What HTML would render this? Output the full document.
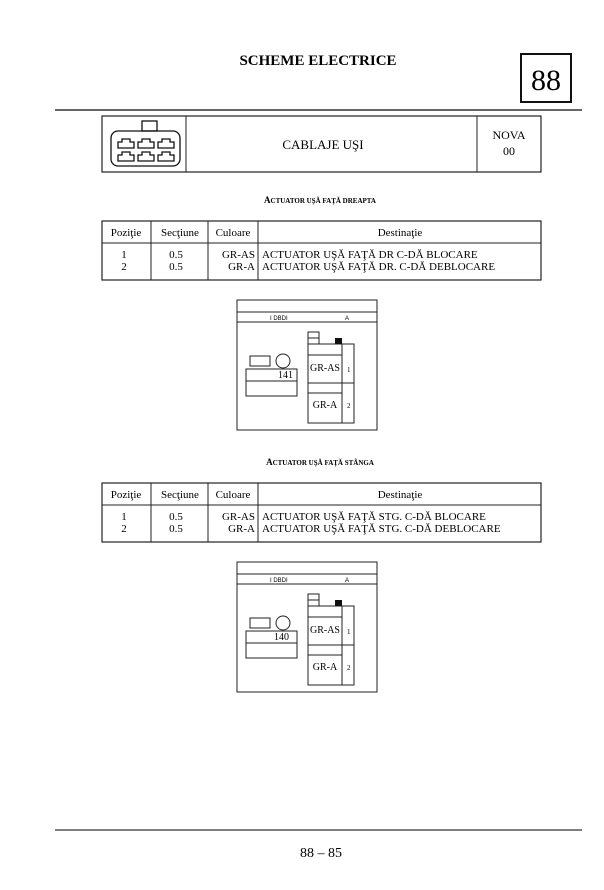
<!DOCTYPE html>
<html><head><meta charset="utf-8"><style>
html,body{margin:0;padding:0;background:#fff;}
svg{display:block;font-family:"Liberation Serif",serif;}
</style></head><body>
<svg width="604" height="890" viewBox="0 0 604 890" xmlns="http://www.w3.org/2000/svg">
<rect width="604" height="890" fill="#fff"/>
<text x="318" y="65" font-size="15" font-weight="bold" text-anchor="middle">SCHEME ELECTRICE</text>
<rect x="521" y="54" width="50" height="48" fill="none" stroke="#111" stroke-width="2"/>
<text x="546" y="90" font-size="30" text-anchor="middle">88</text>
<line x1="55" y1="110" x2="582" y2="110" stroke="#333" stroke-width="1.5"/>

<!-- header box -->
<rect x="102" y="116" width="439" height="56" fill="none" stroke="#222" stroke-width="1.2"/>
<line x1="186" y1="116" x2="186" y2="172" stroke="#222"/>
<line x1="477" y1="116" x2="477" y2="172" stroke="#222"/>
<g fill="none" stroke="#111" stroke-width="1.3">
<rect x="142" y="121" width="15" height="10"/>
<rect x="111" y="131" width="69" height="35" rx="7"/>
<path d="M118 142h4v-3h8v3h4v6h-16z M138 142h4v-3h8v3h4v6h-16z M158 142h4v-3h8v3h4v6h-16z"/>
<path d="M118 155h4v-3h8v3h4v6h-16z M138 155h4v-3h8v3h4v6h-16z M158 155h4v-3h8v3h4v6h-16z"/>
</g>
<text x="323" y="149" font-size="13" text-anchor="middle">CABLAJE UŞI</text>
<text x="509" y="139" font-size="12" text-anchor="middle">NOVA</text>
<text x="509" y="155" font-size="12" text-anchor="middle">00</text>

<g id="sec1">
<text x="320" y="203" font-size="9" font-weight="bold" text-anchor="middle">A<tspan font-size="7">CTUATOR UŞĂ FAŢĂ DREAPTA</tspan></text>
<rect x="102" y="221" width="439" height="59" fill="none" stroke="#222" stroke-width="1.2"/>
<line x1="102" y1="243" x2="541" y2="243" stroke="#222"/>
<line x1="151" y1="221" x2="151" y2="280" stroke="#222"/>
<line x1="208" y1="221" x2="208" y2="280" stroke="#222"/>
<line x1="258" y1="221" x2="258" y2="280" stroke="#222"/>
<g font-size="11">
<text x="126" y="236" text-anchor="middle">Poziţie</text>
<text x="180" y="236" text-anchor="middle">Secţiune</text>
<text x="233" y="236" text-anchor="middle">Culoare</text>
<text x="400" y="236" text-anchor="middle">Destinaţie</text>
<text x="124" y="258" text-anchor="middle">1</text>
<text x="124" y="270" text-anchor="middle">2</text>
<text x="176" y="258" text-anchor="middle">0.5</text>
<text x="176" y="270" text-anchor="middle">0.5</text>
<text x="255" y="258" text-anchor="end">GR-AS</text>
<text x="255" y="270" text-anchor="end">GR-A</text>
<text x="262" y="258">ACTUATOR UŞĂ FAŢĂ DR  C-DĂ BLOCARE</text>
<text x="262" y="270">ACTUATOR UŞĂ FAŢĂ DR. C-DĂ DEBLOCARE</text>
</g>
<g fill="none" stroke="#222" stroke-width="1">
<rect x="237" y="300" width="140" height="130"/>
<line x1="237" y1="312" x2="377" y2="312"/>
<line x1="237" y1="322" x2="377" y2="322"/>
<rect x="250" y="356" width="20" height="10"/>
<circle cx="283" cy="361" r="7"/>
<rect x="246" y="369" width="51" height="27"/>
<line x1="246" y1="381" x2="297" y2="381"/>
<rect x="308" y="332" width="11" height="12"/>
<line x1="308" y1="338" x2="319" y2="338"/>
<rect x="308" y="344" width="34" height="79"/>
<rect x="342" y="344" width="12" height="79"/>
<line x1="308" y1="355" x2="342" y2="355"/>
<line x1="308" y1="383" x2="354" y2="383"/>
<line x1="308" y1="393" x2="342" y2="393"/>
</g>
<rect x="335" y="338" width="7" height="6" fill="#111"/>
<text x="270" y="320" font-size="6" font-family="Liberation Sans,sans-serif">I DBDI</text>
<text x="345" y="320" font-size="6" font-family="Liberation Sans,sans-serif">A</text>
<text x="278" y="378" font-size="10">141</text>
<text x="325" y="371" font-size="10" text-anchor="middle">GR-AS</text>
<text x="325" y="408" font-size="10" text-anchor="middle">GR-A</text>
<text x="347" y="372" font-size="7">1</text>
<text x="347" y="408" font-size="7">2</text>
</g>

<g transform="translate(0,262)">
<text x="320" y="203" font-size="9" font-weight="bold" text-anchor="middle">A<tspan font-size="7">CTUATOR UŞĂ FAŢĂ STÂNGA</tspan></text>
<rect x="102" y="221" width="439" height="59" fill="none" stroke="#222" stroke-width="1.2"/>
<line x1="102" y1="243" x2="541" y2="243" stroke="#222"/>
<line x1="151" y1="221" x2="151" y2="280" stroke="#222"/>
<line x1="208" y1="221" x2="208" y2="280" stroke="#222"/>
<line x1="258" y1="221" x2="258" y2="280" stroke="#222"/>
<g font-size="11">
<text x="126" y="236" text-anchor="middle">Poziţie</text>
<text x="180" y="236" text-anchor="middle">Secţiune</text>
<text x="233" y="236" text-anchor="middle">Culoare</text>
<text x="400" y="236" text-anchor="middle">Destinaţie</text>
<text x="124" y="258" text-anchor="middle">1</text>
<text x="124" y="270" text-anchor="middle">2</text>
<text x="176" y="258" text-anchor="middle">0.5</text>
<text x="176" y="270" text-anchor="middle">0.5</text>
<text x="255" y="258" text-anchor="end">GR-AS</text>
<text x="255" y="270" text-anchor="end">GR-A</text>
<text x="262" y="258">ACTUATOR UŞĂ FAŢĂ STG.  C-DĂ  BLOCARE</text>
<text x="262" y="270">ACTUATOR UŞĂ FAŢĂ STG.  C-DĂ DEBLOCARE</text>
</g>
<g fill="none" stroke="#222" stroke-width="1">
<rect x="237" y="300" width="140" height="130"/>
<line x1="237" y1="312" x2="377" y2="312"/>
<line x1="237" y1="322" x2="377" y2="322"/>
<rect x="250" y="356" width="20" height="10"/>
<circle cx="283" cy="361" r="7"/>
<rect x="246" y="369" width="51" height="27"/>
<line x1="246" y1="381" x2="297" y2="381"/>
<rect x="308" y="332" width="11" height="12"/>
<line x1="308" y1="338" x2="319" y2="338"/>
<rect x="308" y="344" width="34" height="79"/>
<rect x="342" y="344" width="12" height="79"/>
<line x1="308" y1="355" x2="342" y2="355"/>
<line x1="308" y1="383" x2="354" y2="383"/>
<line x1="308" y1="393" x2="342" y2="393"/>
</g>
<rect x="335" y="338" width="7" height="6" fill="#111"/>
<text x="270" y="320" font-size="6" font-family="Liberation Sans,sans-serif">I DBDI</text>
<text x="345" y="320" font-size="6" font-family="Liberation Sans,sans-serif">A</text>
<text x="274" y="378" font-size="10">140</text>
<text x="325" y="371" font-size="10" text-anchor="middle">GR-AS</text>
<text x="325" y="408" font-size="10" text-anchor="middle">GR-A</text>
<text x="347" y="372" font-size="7">1</text>
<text x="347" y="408" font-size="7">2</text>
</g>

<line x1="55" y1="830" x2="582" y2="830" stroke="#333" stroke-width="1.2"/>
<text x="321" y="857" font-size="14" text-anchor="middle">88 – 85</text>
</svg>
</body></html>
